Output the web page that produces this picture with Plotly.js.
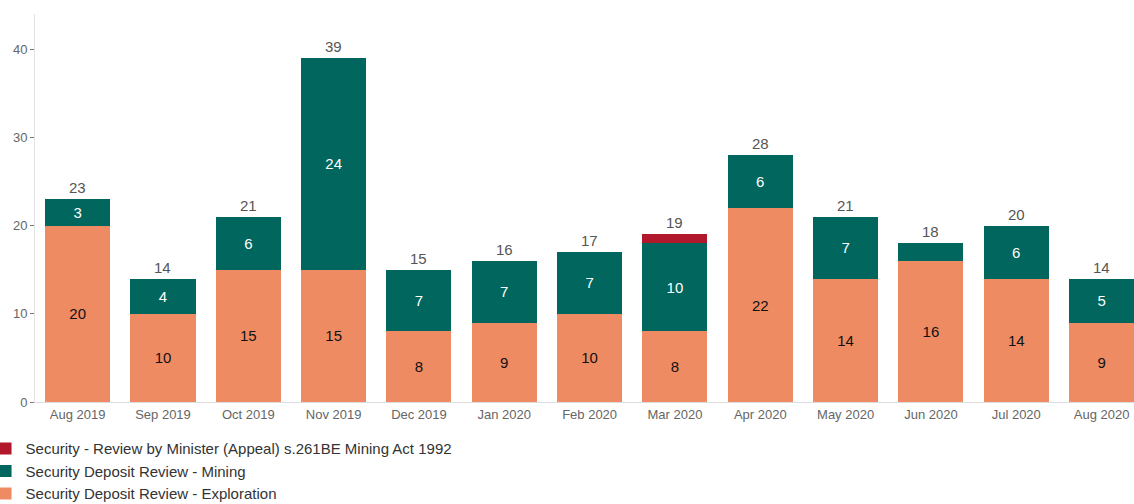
<!DOCTYPE html>
<html>
<head>
<meta charset="utf-8">
<script src="https://cdn.plot.ly/plotly-3.0.1.min.js"></script>
<style>html,body{margin:0;padding:0;background:#fff;}#chart{width:1134px;height:504px;}</style>
</head>
<body>
<div id="chart"></div>
<script>
var months = ["Aug 2019","Sep 2019","Oct 2019","Nov 2019","Dec 2019","Jan 2020","Feb 2020","Mar 2020","Apr 2020","May 2020","Jun 2020","Jul 2020","Aug 2020"];
var exploration = [20,10,15,15,8,9,10,8,22,14,16,14,9];
var mining = [3,4,6,24,7,7,7,10,6,7,2,6,5];
var minister = [0,0,0,0,0,0,0,1,0,0,0,0,0];
var totals = months.map(function(m,i){return exploration[i]+mining[i]+minister[i];});

var font = "'Liberation Sans', Arial, sans-serif";
var traces = [
  {type:'bar', name:'Security Deposit Review - Exploration', x:months, y:exploration,
   marker:{color:'#EF8B62'}, text:exploration.map(function(v){return v>=3?String(v):'';}),
   textposition:'inside', insidetextanchor:'middle', textangle:0, constraintext:'none',
   textfont:{color:'#111', size:15, family:font}, hoverinfo:'y+name'},
  {type:'bar', name:'Security Deposit Review - Mining', x:months, y:mining,
   marker:{color:'#00665E'}, text:mining.map(function(v){return v>=3?String(v):'';}),
   textposition:'inside', insidetextanchor:'middle', textangle:0, constraintext:'none',
   textfont:{color:'#fff', size:15, family:font}, hoverinfo:'y+name'},
  {type:'bar', name:'Security - Review by Minister (Appeal) s.261BE Mining Act 1992', x:months, y:minister,
   marker:{color:'#B2182B'}, textposition:'none', hoverinfo:'y+name'}
];

var annotations = months.map(function(m,i){
  return {x:m, y:totals[i], xref:'x', yref:'y', text:String(totals[i]), showarrow:false,
          yanchor:'bottom', yshift:1, font:{size:15, color:'#555', family:font}};
});

var layout = {
  width:1134, height:504,
  margin:{l:35, r:0, t:14, b:102, autoexpand:false},
  barmode:'stack', bargap:0.238,
  paper_bgcolor:'#fff', plot_bgcolor:'#fff',
  font:{family:font, color:'#666', size:13},
  showlegend:true,
  annotations:annotations,
  legend:{orientation:'v', x:-0.045, xanchor:'left', y:-0.078, yanchor:'top',
          traceorder:'reversed', font:{size:15, color:'#333', family:font},
          tracegroupgap:0, itemwidth:30},
  xaxis:{type:'category', range:[-0.5, 12.38], showgrid:false, zeroline:false,
         showline:true, linecolor:'#ddd', linewidth:1, ticks:'', tickfont:{size:13, color:'#666'},
         fixedrange:true},
  yaxis:{range:[0,44], tickvals:[0,10,20,30,40], showgrid:false, zeroline:false,
         showline:true, linecolor:'#e3e3e3', linewidth:1, ticks:'outside', ticklen:4,
         tickcolor:'#777', tickfont:{size:13, color:'#666'}, fixedrange:true}
};

Plotly.newPlot('chart', traces, layout, {displayModeBar:false, staticPlot:true});
</script>
</body>
</html>
